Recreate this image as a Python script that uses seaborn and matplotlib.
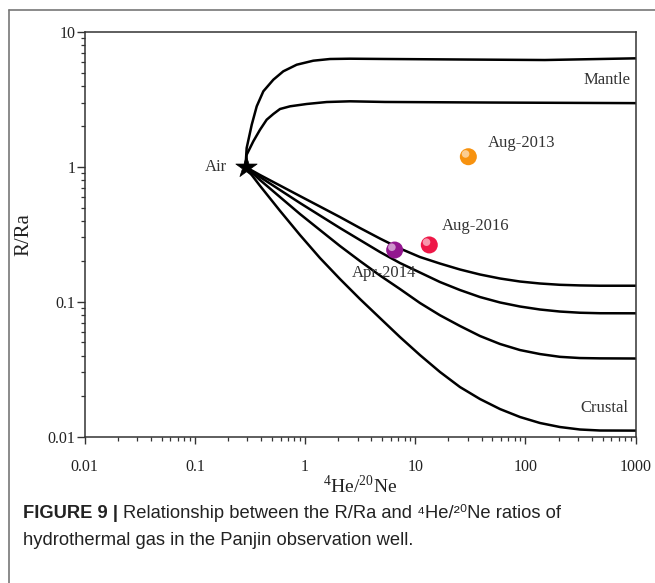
import numpy as np
import pandas as pd
import matplotlib
matplotlib.use("Agg")
import matplotlib.pyplot as plt
import matplotlib.transforms as mtransforms
from matplotlib.lines import Line2D
from matplotlib.ticker import LogLocator, NullFormatter
import seaborn as sns

# values
air_x = [0.288]
air_y = [1.0]

# mixing curves air -> mantle
mantle_hi_x = [0.288, 0.295, 0.328, 0.364, 0.418, 0.515, 0.634, 0.839, 1.187, 1.683, 2.556,
               5.3, 30, 150, 1000]
mantle_hi_y = [1.0, 1.381, 2.055, 2.813, 3.635, 4.43, 5.112, 5.722, 6.128, 6.308, 6.34,
               6.31, 6.25, 6.2, 6.38]
mantle_lo_x = [0.288, 0.295, 0.339, 0.390, 0.448, 0.515, 0.592, 0.730, 1.034, 1.570, 2.556,
               5.3, 50, 1000]
mantle_lo_y = [1.0, 1.231, 1.548, 1.887, 2.238, 2.467, 2.687, 2.813, 2.927, 3.027, 3.064,
               3.03, 3.0, 2.97]

# mixing curves air -> crust (shared x grid)
crust_x = [0.288, 0.390, 0.592, 0.899, 1.365, 2.073, 3.149, 4.782, 7.263, 11.03, 16.75,
           25.44, 38.65, 58.7, 89.2, 135.4, 205.6, 312.3, 474.3, 1000]
crust1_y = [1.0, 0.871, 0.728, 0.608, 0.5085, 0.425, 0.3524, 0.2945, 0.2484, 0.2148, 0.1922,
            0.1736, 0.1594, 0.1489, 0.1414, 0.1367, 0.1337, 0.1323, 0.1316, 0.1316]
crust2_y = [1.0, 0.8416, 0.6742, 0.54, 0.4362, 0.3524, 0.2871, 0.234, 0.1939, 0.1649, 0.1402,
            0.1223, 0.1085, 0.0989, 0.0923, 0.0877, 0.0847, 0.083, 0.0823, 0.0822]
crust3_y = [1.0, 0.7997, 0.5981, 0.4475, 0.3405, 0.2593, 0.2006, 0.1567, 0.1244, 0.098, 0.0795,
            0.0662, 0.0558, 0.0487, 0.0439, 0.041, 0.0391, 0.0383, 0.0381, 0.038]
crust4_y = [1.0, 0.724, 0.4726, 0.3127, 0.2112, 0.1476, 0.1049, 0.0758, 0.0548, 0.0403, 0.0302,
            0.02335, 0.01903, 0.01604, 0.014, 0.01264, 0.0118, 0.01131, 0.01112, 0.0111]

sample_names = ["Aug-2013", "Aug-2016", "Apr-2014"]
sample_he_ne = [30.3, 13.4, 6.5]
sample_r_ra = [1.19, 0.264, 0.242]
sample_colors = ["#F7920F", "#EE1747", "#93168F"]

x_ticks = [0.01, 0.1, 1, 10, 100, 1000]
x_tick_labels = ["0.01", "0.1", "1", "10", "100", "1000"]
y_ticks = [0.01, 0.1, 1, 10]
y_tick_labels = ["0.01", "0.1", "1", "10"]

curves = {
    "mantle_hi": (mantle_hi_x, mantle_hi_y),
    "mantle_lo": (mantle_lo_x, mantle_lo_y),
    "crust1": (crust_x, crust1_y),
    "crust2": (crust_x, crust2_y),
    "crust3": (crust_x, crust3_y),
    "crust4": (crust_x, crust4_y),
}
rows = []
for name, (xs, ys) in curves.items():
    for xv, yv in zip(xs, ys):
        rows.append({"curve": name, "he_ne": xv, "r_ra": yv})
df = pd.DataFrame(rows)
samples = pd.DataFrame({"name": sample_names, "he_ne": sample_he_ne, "r_ra": sample_r_ra})

sns.set_style("ticks")
plt.rcParams['font.family'] = ['Liberation Serif', 'DejaVu Serif']
plt.rcParams['mathtext.fontset'] = 'custom'
plt.rcParams['mathtext.rm'] = 'Liberation Serif'

fig = plt.figure(figsize=(6.55, 5.83), dpi=100)
ax = fig.add_axes([0.1293, 0.2509, 0.8412, 0.6942])

ax.set_xscale('log')
ax.set_yscale('log')

sns.lineplot(data=df, x="he_ne", y="r_ra", units="curve", estimator=None, sort=False,
             color="black", lw=1.8, ax=ax)

sns.scatterplot(x=air_x, y=air_y, marker="*", s=260, color="black", edgecolor="black",
                linewidth=0.5, ax=ax, zorder=5)

# shaded balls
sns.scatterplot(data=samples, x="he_ne", y="r_ra", hue="name", palette=sample_colors,
                s=150, edgecolor="none", legend=False, ax=ax, zorder=6)
hl = ax.transData + mtransforms.ScaledTranslation(-2 / 72, 2 / 72, fig.dpi_scale_trans)
ax.scatter(samples["he_ne"], samples["r_ra"], s=30, color="white", alpha=0.55,
           edgecolor="none", transform=hl, zorder=7)

ax.set_xlim(0.01, 1000)
ax.set_ylim(0.01, 10)
ax.set_xticks(x_ticks)
ax.set_xticklabels(x_tick_labels)
ax.set_yticks(y_ticks)
ax.set_yticklabels(y_tick_labels)
ax.xaxis.set_minor_locator(LogLocator(base=10, subs=np.arange(2, 10), numticks=20))
ax.yaxis.set_minor_locator(LogLocator(base=10, subs=np.arange(2, 10), numticks=20))
ax.xaxis.set_minor_formatter(NullFormatter())
ax.yaxis.set_minor_formatter(NullFormatter())
ax.tick_params(which='major', width=1, color='#333333', labelsize=11.5, labelcolor='#222222')
ax.tick_params(axis='x', which='major', length=5, pad=11)
ax.tick_params(axis='y', which='major', length=6, pad=0.5)
ax.tick_params(which='minor', length=3, width=0.9, color='#333333')
for sp in ax.spines.values():
    sp.set_color('#333333')
    sp.set_linewidth(1.1)

ax.set_xlabel(r"$^{4}$He/$^{20}$Ne", fontsize=14, color='#222222', labelpad=0)
ax.set_ylabel("R/Ra", fontsize=15, color='#222222', labelpad=10.5)

lab = dict(fontsize=12, color='#333333', va='center')
ax.text(0.195, 1.0, "Air", ha='right', **lab)
ax.text(889, 4.41, "Mantle", ha='right', **lab)
ax.text(851, 0.01625, "Crustal", ha='right', **lab)
ax.text(45.4, 1.496, "Aug-2013", ha='left', **lab)
ax.text(17.4, 0.3665, "Aug-2016", ha='left', **lab)
ax.text(2.65, 0.164, "Apr-2014", ha='left', **lab)

# outer frame of the figure panel
fig.add_artist(Line2D([9 / 655, 1.0], [1 - 10 / 583, 1 - 10 / 583], color='#777777', lw=1.2))
fig.add_artist(Line2D([9 / 655, 9 / 655], [0.0, 1 - 10 / 583], color='#777777', lw=1.2))

# caption
cap = dict(fontsize=13.2, color='#222222', va='baseline',
           family=['Liberation Sans', 'DejaVu Sans'])
t1 = fig.text(23 / 655, 1 - 518 / 583, "FIGURE 9 |", fontweight='bold', **cap)
fig.canvas.draw()
bb = t1.get_window_extent()
x_next = (bb.x1 + 5) / fig.bbox.width
fig.text(x_next, 1 - 518 / 583,
         "Relationship between the R/Ra and \u2074He/\u00b2\u2070Ne ratios of", **cap)
fig.text(23 / 655, 1 - 545 / 583, "hydrothermal gas in the Panjin observation well.", **cap)

fig.savefig("out.png", dpi=100)
